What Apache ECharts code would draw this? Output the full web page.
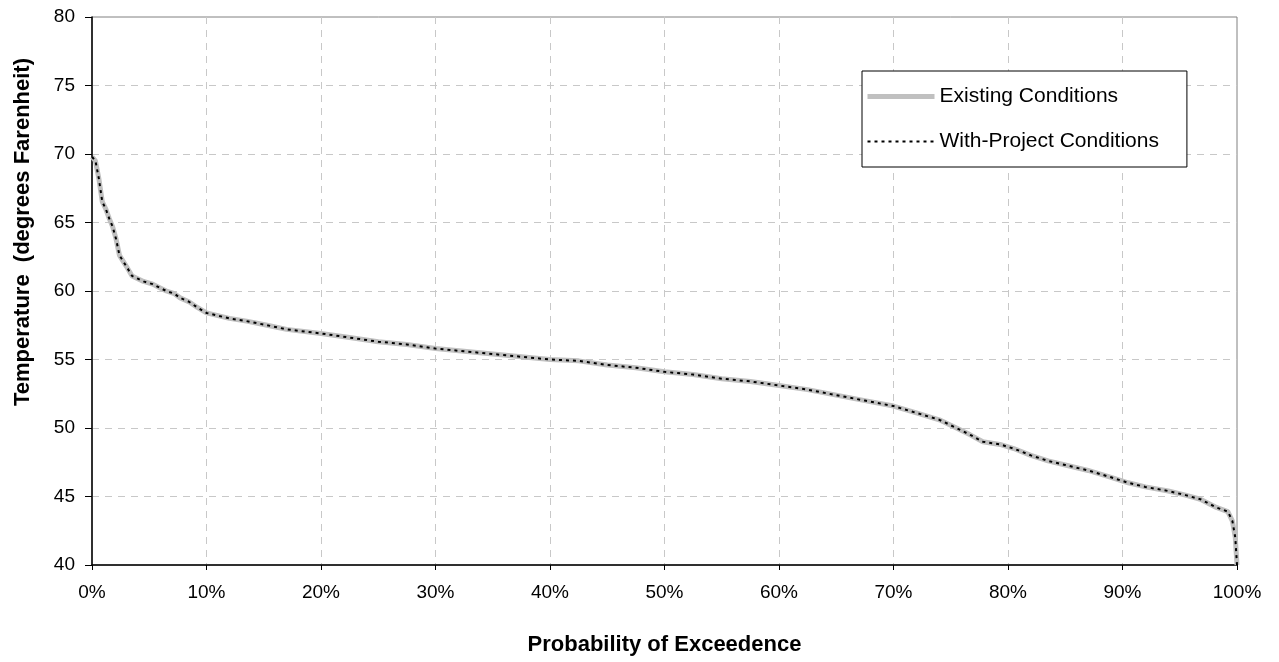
<!DOCTYPE html>
<html>
<head>
<meta charset="utf-8">
<title>Temperature Exceedence</title>
<script src="https://cdn.jsdelivr.net/npm/echarts@6/dist/echarts.min.js"></script>
<style>
  html, body { margin: 0; padding: 0; background: #fff; }
  #chart { width: 1279px; height: 662px; }
</style>
</head>
<body>
<div id="chart"></div>
<script>
// Probability of exceedence (%) for each sampled point of the duration curve
const exceedence = [
  0, 0.3, 0.6, 0.9, 1.2, 1.5, 1.8, 2.1, 2.4, 2.7, 3.0, 3.5, 4.0, 4.5, 5.3,
  6.0, 6.5, 7.2, 7.7, 8.5, 9.2, 10, 11, 12, 13.5, 15.3, 17, 20, 22.5, 25,
  27.5, 30, 32.5, 35, 37.5, 40, 42.5, 45, 47.5, 50, 52.5, 55, 57.5, 60,
  62.5, 65, 67.5, 70, 72, 74, 75.5, 76.7, 77.8, 79.3, 80.5, 82, 83.5, 85,
  87, 89, 90.5, 92, 94, 95.5, 96.8, 98.2, 99.2, 99.6, 99.85, 100
];

// Temperature (degrees Fahrenheit), existing conditions
const existingTemp = [
  69.8, 69.5, 68.2, 66.5, 66.0, 65.3, 64.7, 63.8, 62.6, 62.2, 61.8, 61.1,
  60.9, 60.7, 60.5, 60.2, 60.0, 59.8, 59.5, 59.2, 58.8, 58.4, 58.2, 58.0,
  57.8, 57.5, 57.2, 56.9, 56.6, 56.3, 56.1, 55.8, 55.6, 55.4, 55.2, 55.0,
  54.9, 54.6, 54.4, 54.1, 53.9, 53.6, 53.4, 53.1, 52.8, 52.4, 52.0, 51.6,
  51.1, 50.6, 50.0, 49.5, 49.0, 48.8, 48.5, 48.0, 47.6, 47.3, 46.9, 46.4,
  46.0, 45.7, 45.4, 45.1, 44.8, 44.2, 43.9, 43.2, 42.0, 40.0
];

// Temperature (degrees Fahrenheit), with-project conditions
const projectTemp = [
  69.8, 69.5, 68.2, 66.5, 66.0, 65.3, 64.7, 63.8, 62.6, 62.2, 61.8, 61.1,
  60.9, 60.7, 60.5, 60.2, 60.0, 59.8, 59.5, 59.2, 58.8, 58.4, 58.2, 58.0,
  57.8, 57.5, 57.2, 56.9, 56.6, 56.3, 56.1, 55.8, 55.6, 55.4, 55.2, 55.0,
  54.9, 54.6, 54.4, 54.1, 53.9, 53.6, 53.4, 53.1, 52.8, 52.4, 52.0, 51.6,
  51.1, 50.6, 50.0, 49.5, 49.0, 48.8, 48.5, 48.0, 47.6, 47.3, 46.9, 46.4,
  46.0, 45.7, 45.4, 45.1, 44.8, 44.2, 43.9, 43.2, 42.0, 40.0
];

const seriesNames = ['Existing Conditions', 'With-Project Conditions'];
const xTitle = 'Probability of Exceedence';
const yTitle = 'Temperature  (degrees Farenheit)';

const FONT = '"Liberation Sans", Arial, Helvetica, sans-serif';

const existingLine = { color: '#c0c0c0', width: 5 };
const projectLine = { color: '#000000', width: 2, type: [3, 4] };

const chart = echarts.init(document.getElementById('chart'), null, { renderer: 'canvas' });

chart.setOption({
  animation: false,
  backgroundColor: '#ffffff',
  textStyle: { fontFamily: FONT },
  grid: {
    left: 92, top: 17, right: 42, bottom: 97,
    show: true, borderColor: '#808080', borderWidth: 1, backgroundColor: 'transparent'
  },
  // vertical axis title, set a little above the plot's centre
  graphic: [{
    type: 'text',
    x: 23, y: 232,
    rotation: Math.PI / 2,
    style: {
      text: yTitle,
      fontFamily: FONT, fontSize: 22, fontWeight: 'bold', fill: '#000',
      align: 'center', verticalAlign: 'middle'
    }
  }],
  legend: {
    orient: 'vertical',
    left: 862, top: 71,
    padding: [15, 28, 15, 3],
    borderColor: '#000000', borderWidth: 1,
    backgroundColor: '#ffffff',
    itemWidth: 67, itemHeight: 20, itemGap: 24, itemTextGap: 3,
    textStyle: { fontFamily: FONT, fontSize: 21, color: '#000' },
    data: [
      { name: seriesNames[0], lineStyle: existingLine, itemStyle: { color: existingLine.color, opacity: 0 } },
      { name: seriesNames[1], lineStyle: projectLine, itemStyle: { color: projectLine.color, opacity: 0 } }
    ]
  },
  xAxis: {
    type: 'value', min: 0, max: 100, interval: 10,
    name: xTitle, nameLocation: 'middle', nameGap: 69,
    nameTextStyle: { fontFamily: FONT, fontSize: 22, fontWeight: 'bold', color: '#000' },
    axisLine: { show: true, lineStyle: { color: '#000', width: 1.5 } },
    axisTick: { show: true, inside: false, length: 5, lineStyle: { color: '#000' } },
    axisLabel: { formatter: v => v + '%', fontFamily: FONT, fontSize: 19, color: '#000', margin: 18 },
    splitLine: { show: true, showMinLine: false, showMaxLine: false,
      lineStyle: { color: '#c8c8c8', type: [7, 6], width: 1 } }
  },
  yAxis: {
    type: 'value', min: 40, max: 80, interval: 5,
    axisLine: { show: true, lineStyle: { color: '#000', width: 1.5 } },
    axisTick: { show: true, inside: false, length: 7, lineStyle: { color: '#000' } },
    axisLabel: { fontFamily: FONT, fontSize: 19, color: '#000', margin: 17 },
    splitLine: { show: true, showMinLine: false, showMaxLine: false,
      lineStyle: { color: '#c8c8c8', type: [7, 6], width: 1 } }
  },
  series: [
    {
      name: seriesNames[0], type: 'line', showSymbol: false, symbol: 'none',
      data: exceedence.map((x, i) => [x, existingTemp[i]]),
      lineStyle: existingLine, itemStyle: { color: existingLine.color }, z: 2
    },
    {
      name: seriesNames[1], type: 'line', showSymbol: false, symbol: 'none',
      data: exceedence.map((x, i) => [x, projectTemp[i]]),
      lineStyle: projectLine, itemStyle: { color: projectLine.color }, z: 3
    }
  ]
});
</script>
</body>
</html>
